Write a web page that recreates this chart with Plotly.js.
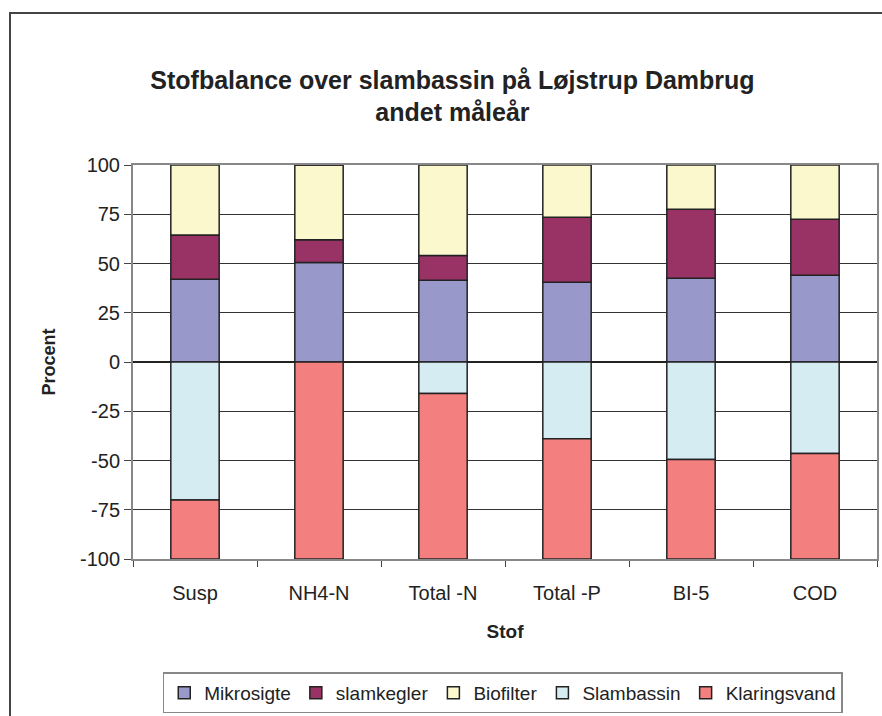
<!DOCTYPE html>
<html>
<head>
<meta charset="utf-8">
<script src="https://cdn.plot.ly/plotly-3.0.1.min.js"></script>
<style>
  html, body { margin: 0; padding: 0; background: #fff; }
  #wrap { position: relative; width: 882px; height: 716px; }
  #chart { width: 882px; height: 716px; }
  #frame { position: absolute; left: 9px; top: 12px; width: 900px; height: 720px;
           border-left: 2px solid #444; border-top: 2px solid #444; pointer-events: none; }
</style>
</head>
<body>
<div id="wrap">
  <div id="chart"></div>
  <div id="frame"></div>
</div>
<script>
const categories = ["Susp", "NH4-N", "Total -N", "Total -P", "BI-5", "COD"];
const mikrosigte = [42, 50.5, 41.5, 40.5, 42.5, 44];
const slamkegler = [22.5, 11.5, 12.5, 33, 35, 28.5];
const biofilter = [35.5, 38, 46, 26.5, 22.5, 27.5];
const slambassin = [-70, 0, -16, -39, -49.5, -46.5];
const klaringsvand = [-30, -100, -84, -61, -50.5, -53.5];
const yTickValues = [-100, -75, -50, -25, 0, 25, 50, 75, 100];
const yTickLabels = ["-100", "-75", "-50", "-25", "0", "25", "50", "75", "100"];

const seriesNames = ["Mikrosigte", "slamkegler", "Biofilter", "Slambassin", "Klaringsvand"];
const seriesValues = [mikrosigte, slamkegler, biofilter, slambassin, klaringsvand];
const seriesColors = ["#9898CA", "#993366", "#FBF8CE", "#D4ECF2", "#F47F7F"];

const traces = seriesNames.map((n, i) => ({
  type: "bar",
  name: n,
  x: categories,
  y: seriesValues[i],
  marker: { color: seriesColors[i], line: { color: "#222", width: 1.5 } },
  hoverinfo: "x+y+name"
}));

const font = "Liberation Sans, Arial, sans-serif";
const layout = {
  width: 882, height: 716,
  paper_bgcolor: "#fff", plot_bgcolor: "#fff",
  margin: { l: 133, r: 5, t: 165, b: 157, autoexpand: false },
  barmode: "relative",
  bargap: 0.61,
  font: { family: font, color: "#222", size: 20 },
  title: {
    text: "<b>Stofbalance over slambassin på Løjstrup Dambrug<br>andet måleår</b>",
    font: { family: font, size: 25, color: "#222" },
    x: 0.513, xanchor: "center",
    y: 0.876, yanchor: "top"
  },
  xaxis: {
    type: "category",
    automargin: false,
    showgrid: false,
    showline: true, linecolor: "#888", linewidth: 2, mirror: true,
    ticks: "outside", tickson: "boundaries", ticklen: 6, tickcolor: "#444",
    ticklabelstandoff: 15,
    tickfont: { family: font, size: 20, color: "#222" },
    title: { text: "<b>Stof</b>", font: { family: font, size: 19, color: "#222" }, standoff: 22 },
    zeroline: false
  },
  yaxis: {
    range: [-100, 100],
    automargin: false,
    tickmode: "array", tickvals: yTickValues, ticktext: yTickLabels,
    showgrid: true, gridcolor: "#333", gridwidth: 1,
    zeroline: true, zerolinecolor: "#222", zerolinewidth: 1.5,
    showline: true, linecolor: "#888", linewidth: 2, mirror: true,
    ticks: "outside", ticklen: 7, tickcolor: "#444",
    tickfont: { family: font, size: 20, color: "#222" },
    title: { text: "<b>Procent</b>", font: { family: font, size: 18, color: "#222" }, standoff: 20 }
  },
  showlegend: true,
  legend: {
    orientation: "h",
    x: 0.497, xanchor: "center",
    y: -0.288, yanchor: "top",
    traceorder: "normal",
    bordercolor: "#888", borderwidth: 1.5,
    bgcolor: "#fff",
    font: { family: font, size: 19, color: "#222" },
    itemwidth: 30
  }
};

Plotly.newPlot("chart", traces, layout, { displayModeBar: false, staticPlot: true });
</script>
</body>
</html>
